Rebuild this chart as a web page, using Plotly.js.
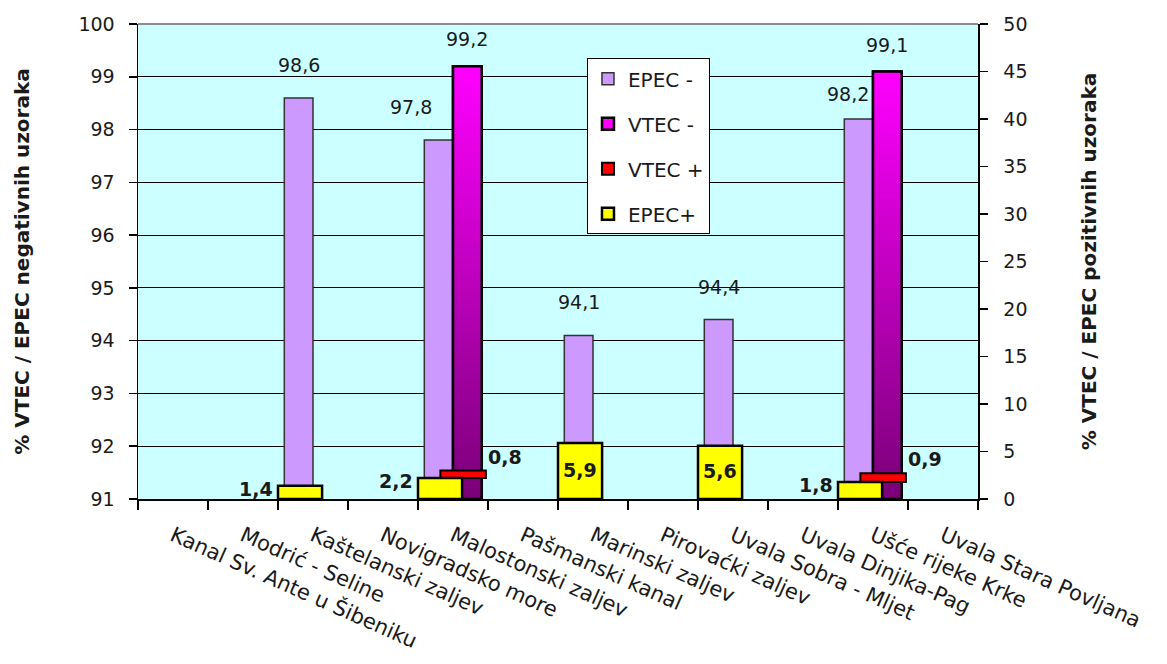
<!DOCTYPE html>
<html>
<head>
<meta charset="utf-8">
<script src="https://cdn.plot.ly/plotly-3.0.1.min.js"></script>
<style>
  html, body { margin: 0; padding: 0; background: #ffffff; }
  #chart { width: 1167px; height: 664px; }
</style>
</head>
<body>
<div id="chart"></div>
<script>
// ---------------- data ----------------
const CATEGORIES = [
  "Kanal Sv. Ante u Šibeniku",
  "Modrić - Seline",
  "Kaštelanski zaljev",
  "Novigradsko more",
  "Malostonski zaljev",
  "Pašmanski kanal",
  "Marinski zaljev",
  "Pirovaćki zaljev",
  "Uvala Sobra - Mljet",
  "Uvala Dinjika-Pag",
  "Ušće rijeke Krke",
  "Uvala Stara Povljana"
];
const EPEC_NEG = [null, null, 98.6, null, 97.8, null, 94.1, null, 94.4, null, 98.2, null];
const VTEC_NEG = [null, null, null, null, 99.2, null, null, null, null, null, 99.1, null];
const VTEC_POS = [null, null, null, null, 0.8, null, null, null, null, null, 0.9, null];
const EPEC_POS = [null, null, 1.4, null, 2.2, null, 5.9, null, 5.6, null, 1.8, null];
const LEFT_TICKS = [91, 92, 93, 94, 95, 96, 97, 98, 99, 100];
const RIGHT_TICKS = [0, 5, 10, 15, 20, 25, 30, 35, 40, 45, 50];
const SERIES_NAMES = ["EPEC -", "VTEC -", "VTEC +", "EPEC+"];
const LEFT_TITLE = "% VTEC / EPEC negativnih uzoraka";
const RIGHT_TITLE = "% VTEC / EPEC pozitivnih uzoraka";

// ---------------- styling ----------------
const FONT = "DejaVu Sans, Liberation Sans, Arial, sans-serif";
const TXT = "#1a1a1a";
const IDX = CATEGORIES.map((_, i) => i);
const BOUNDS = CATEGORIES.map((_, i) => i - 0.5).concat([CATEGORIES.length - 0.5]);
const LMIN = LEFT_TICKS[0], LMAX = LEFT_TICKS[LEFT_TICKS.length - 1];
const RMIN = RIGHT_TICKS[0], RMAX = RIGHT_TICKS[RIGHT_TICKS.length - 1];

// bar geometry in category units
const G = {
  epecNeg: {offset: -0.41, width: 0.41},
  vtecNeg: {offset: 0.0, width: 0.41},
  epecPos: {offset: -0.5, width: 0.63},
  vtecPos: {offset: -0.18, width: 0.65}
};

const fmt = v => v.toFixed(1).replace(".", ",");

const traces = [];

traces.push({
  type: "bar", name: SERIES_NAMES[0], x: IDX, y: EPEC_NEG,
  xaxis: "x", yaxis: "y",
  offset: G.epecNeg.offset, width: G.epecNeg.width,
  marker: {color: "#CC99FF", line: {color: "#333333", width: 1.5}},
  legendgroup: "g1", hoverinfo: "skip"
});
traces.push({
  type: "bar", name: SERIES_NAMES[1], x: IDX, y: VTEC_NEG,
  xaxis: "x", yaxis: "y",
  offset: G.vtecNeg.offset, width: G.vtecNeg.width,
  marker: {color: "#FF00FF", line: {color: "#000000", width: 2.5}},
  legendgroup: "g2", hoverinfo: "skip"
});
// gradient fill drawn over each VTEC- bar
IDX.forEach(i => {
  const v = VTEC_NEG[i];
  if (v === null) return;
  const x0 = i + G.vtecNeg.offset, x1 = x0 + G.vtecNeg.width;
  traces.push({
    type: "scatter", mode: "lines", xaxis: "x", yaxis: "y",
    x: [x0, x0, x1, x1, x0], y: [LMIN, v, v, LMIN, LMIN],
    fill: "toself",
    fillgradient: {type: "vertical", colorscale: [[0, "#7A0078"], [1, "#FF00FF"]], start: LMIN, stop: v},
    line: {color: "#000000", width: 2.5},
    showlegend: false, hoverinfo: "skip", legendgroup: "g2"
  });
});
traces.push({
  type: "bar", name: SERIES_NAMES[2], x: IDX, y: VTEC_POS, base: EPEC_POS,
  xaxis: "x", yaxis: "y2",
  offset: G.vtecPos.offset, width: G.vtecPos.width,
  marker: {color: "#FF0000", line: {color: "#000000", width: 2}},
  legendgroup: "g3", hoverinfo: "skip"
});
traces.push({
  type: "bar", name: SERIES_NAMES[3], x: IDX, y: EPEC_POS,
  xaxis: "x", yaxis: "y2",
  offset: G.epecPos.offset, width: G.epecPos.width,
  marker: {color: "#FFFF00", line: {color: "#000000", width: 2.5}},
  legendgroup: "g4", hoverinfo: "skip"
});

// ---------------- data labels ----------------
const annotations = [];
const normalFont = {family: FONT, size: 19, color: TXT};
const boldFont = {family: FONT, size: 19, color: TXT, weight: "bold"};

IDX.forEach(i => {
  const en = EPEC_NEG[i], vn = VTEC_NEG[i], vp = VTEC_POS[i], ep = EPEC_POS[i];
  if (en !== null) {
    const cx = i + G.epecNeg.offset + G.epecNeg.width / 2;
    // when a taller neighbour bar is present, the label is pushed left
    const shift = (vn !== null) ? (vn - en > 1 ? -28 : -11) : 0;
    annotations.push({xref: "x", yref: "y", x: cx, y: en, text: fmt(en),
      showarrow: false, xanchor: "center", yanchor: "bottom",
      xshift: shift, yshift: (vn !== null && vn - en <= 1) ? 12 : 20, font: normalFont});
  }
  if (vn !== null) {
    const cx = i + G.vtecNeg.offset + G.vtecNeg.width / 2;
    annotations.push({xref: "x", yref: "y", x: cx, y: vn, text: fmt(vn),
      showarrow: false, xanchor: "center", yanchor: "bottom", yshift: 14, font: normalFont});
  }
  if (ep !== null) {
    const left = i + G.epecPos.offset;
    if (ep >= 5) {
      annotations.push({xref: "x", yref: "y2", x: left + G.epecPos.width / 2, y: ep / 2,
        text: fmt(ep), showarrow: false, xanchor: "center", yanchor: "middle", yshift: 1, font: boldFont});
    } else {
      annotations.push({xref: "x", yref: "y2", x: left, y: ep,
        text: fmt(ep), showarrow: false, xanchor: "right", yanchor: "middle", xshift: -3, yshift: -3, font: boldFont});
    }
  }
  if (vp !== null) {
    const right = i + G.vtecPos.offset + G.vtecPos.width;
    annotations.push({xref: "x", yref: "y2", x: right, y: (ep || 0) + vp,
      text: fmt(vp), showarrow: false, xanchor: "left", yanchor: "bottom", xshift: 0, yshift: 1, font: boldFont});
  }
});

// ---------------- layout ----------------
const layout = {
  width: 1167, height: 664,
  margin: {l: 138, r: 189, t: 24, b: 165, pad: 0},
  paper_bgcolor: "#ffffff",
  plot_bgcolor: "#CCFFFF",
  font: {family: FONT, size: 19, color: TXT},
  barmode: "overlay",
  showlegend: true,
  legend: {
    x: 0.5345, y: 0.928, xanchor: "left", yanchor: "top",
    bgcolor: "#ffffff", bordercolor: "#000000", borderwidth: 1,
    font: {family: FONT, size: 20, color: TXT},
    traceorder: "grouped", tracegroupgap: 16,
    itemclick: false, itemdoubleclick: false
  },
  xaxis: {
    type: "linear", range: [-0.5, CATEGORIES.length - 0.5],
    tickmode: "array", tickvals: IDX, ticktext: CATEGORIES,
    ticks: "", tickangle: 24,
    ticklabelstandoff: 15,
    tickfont: {family: FONT, size: 21, color: TXT},
    showgrid: false, zeroline: false,
    showline: true, linecolor: "#000000", linewidth: 1.5,
    minor: {tickmode: "array", tickvals: BOUNDS, ticks: "outside", ticklen: 9, tickwidth: 1.5, tickcolor: "#000000", showgrid: false},
    fixedrange: true, automargin: false
  },
  yaxis: {
    range: [LMIN, LMAX], tickmode: "array", tickvals: LEFT_TICKS,
    ticks: "outside", ticklen: 8, tickwidth: 1.5, tickcolor: "#000000",
    ticklabelstandoff: 10,
    tickfont: {family: FONT, size: 19, color: TXT},
    showgrid: true, gridcolor: "#000000", gridwidth: 1,
    zeroline: false, showline: true, linecolor: "#000000", linewidth: 1.5,
    title: {text: LEFT_TITLE, font: {family: FONT, size: 20, color: TXT, weight: "bold"}, standoff: 43},
    fixedrange: true, automargin: false
  },
  yaxis2: {
    overlaying: "y", side: "right", anchor: "x",
    range: [RMIN, RMAX], tickmode: "array", tickvals: RIGHT_TICKS,
    ticks: "outside", ticklen: 8, tickwidth: 1.5, tickcolor: "#000000",
    ticklabelstandoff: 12,
    tickfont: {family: FONT, size: 19, color: TXT},
    showgrid: false, zeroline: false,
    showline: true, linecolor: "#000000", linewidth: 1.5,
    title: {text: RIGHT_TITLE, font: {family: FONT, size: 20, color: TXT, weight: "bold"}, standoff: 55},
    fixedrange: true, automargin: false
  },
  shapes: [
    {type: "line", xref: "paper", yref: "paper", x0: 0, x1: 1, y0: 1, y1: 1,
     line: {color: "#8c8c8c", width: 2}, layer: "above"}
  ],
  annotations: annotations
};

Plotly.newPlot("chart", traces, layout, {displayModeBar: false, staticPlot: true});
</script>
</body>
</html>
